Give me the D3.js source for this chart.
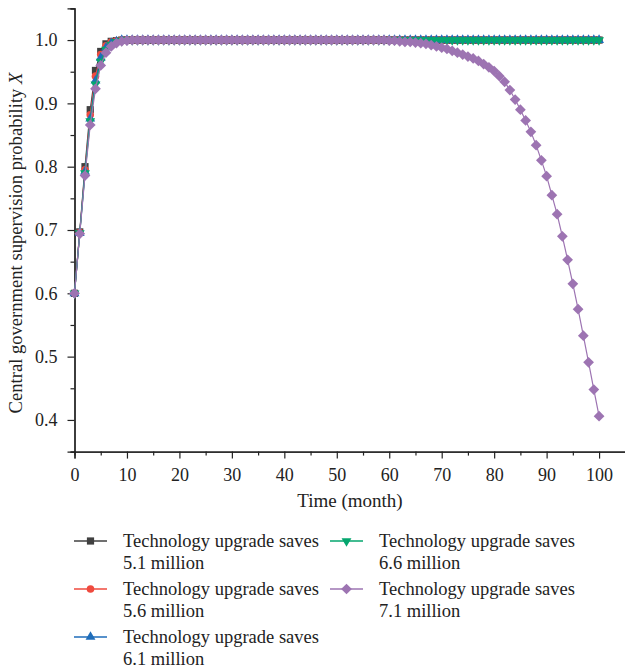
<!DOCTYPE html>
<html><head><meta charset="utf-8">
<script src="https://cdn.jsdelivr.net/npm/d3@7"></script>
<style>body{margin:0;background:#fff}svg{display:block}text{font-family:"Liberation Serif","DejaVu Serif",serif;fill:#222}</style>
</head><body><svg id="c" width="625" height="671"></svg>
<script>
const months = d3.range(0, 101);
const xTicks = [0,10,20,30,40,50,60,70,80,90,100];
const yTicks = [0.4,0.5,0.6,0.7,0.8,0.9,1.0];
const seriesNames = ["5.1 million","5.6 million","6.1 million","6.6 million","7.1 million"];
const colors = ["#404040","#EF4A3E","#1F6DBA","#04A66E","#9D74B2"];
const s51 = [0.6,0.697,0.800,0.890,0.952,0.982,0.994,0.998,0.999,1,
1,1,1,1,1,1,1,1,1,1, 1,1,1,1,1,1,1,1,1,1, 1,1,1,1,1,1,1,1,1,1, 1,1,1,1,1,1,1,1,1,1,
1,1,1,1,1,1,1,1,1,1, 1,1,1,1,1,1,1,1,1,1, 1,1,1,1,1,1,1,1,1,1, 1,1,1,1,1,1,1,1,1,1,
1,1,1,1,1,1,1,1,1,1, 1];
const s56 = [0.6,0.696,0.795,0.882,0.943,0.977,0.991,0.997,0.999,1,
1,1,1,1,1,1,1,1,1,1, 1,1,1,1,1,1,1,1,1,1, 1,1,1,1,1,1,1,1,1,1, 1,1,1,1,1,1,1,1,1,1,
1,1,1,1,1,1,1,1,1,1, 1,1,1,1,1,1,1,1,1,1, 1,1,1,1,1,1,1,1,1,1, 1,1,1,1,1,1,1,1,1,1,
1,1,1,1,1,1,1,1,1,1, 1];
const s61 = [0.6,0.695,0.792,0.876,0.936,0.972,0.988,0.995,0.998,1,
1,1,1,1,1,1,1,1,1,1, 1,1,1,1,1,1,1,1,1,1, 1,1,1,1,1,1,1,1,1,1, 1,1,1,1,1,1,1,1,1,1,
1,1,1,1,1,1,1,1,1,1, 1,1,1,1,1,1,1,1,1,1, 1,1,1,1,1,1,1,1,1,1, 1,1,1,1,1,1,1,1,1,1,
1,1,1,1,1,1,1,1,1,1, 1];
const s66 = [0.6,0.695,0.790,0.872,0.930,0.966,0.985,0.993,0.997,0.999,
1,1,1,1,1,1,1,1,1,1, 1,1,1,1,1,1,1,1,1,1, 1,1,1,1,1,1,1,1,1,1, 1,1,1,1,1,1,1,1,1,1,
1,1,1,1,1,1,1,1,1,1, 1,1,1,1,1,1,1,1,1,1, 1,1,1,1,1,1,1,1,1,1, 1,1,1,1,1,1,1,1,1,1,
1,1,1,1,1,1,1,1,1,1, 1];
const s71 = [0.6,0.694,0.786,0.866,0.923,0.960,0.980,0.990,0.995,0.998,0.999,1,
1,1,1,1,1,1,1,1, 1,1,1,1,1,1,1,1,1,1, 1,1,1,1,1,1,1,1,1,1, 1,1,1,1,1,1,1,1,1,1,
1,1,1,1,1,1,1,1,1,1,
0.999,0.999,0.998,0.997,0.997,0.996,0.995,0.994,0.992,0.990,
0.988,0.986,0.983,0.980,0.977,0.974,0.971,0.967,0.962,0.957,
0.951,0.943,0.934,0.921,0.906,0.890,0.873,0.855,0.834,0.810,
0.785,0.755,0.725,0.690,0.653,0.615,0.575,0.533,0.491,0.448,
0.406];
const seriesValues = [s51,s56,s61,s66,s71];

const svg = d3.select("#c");
const x = d3.scaleLinear().domain([0,105]).range([74.5, 625.3]);
const y = d3.scaleLinear().domain([0.35,1.05]).range([451.6, 8.4]);

// axes
const gx = svg.append("g").attr("transform",`translate(0,${y(0.35)})`);
gx.call(d3.axisBottom(x).tickValues(xTicks).tickSize(7).tickPadding(10).tickFormat(d3.format("d")));
gx.append("g").call(d3.axisBottom(x).tickValues(d3.range(5,100,10)).tickSize(4).tickFormat(""));
const gy = svg.append("g").attr("transform",`translate(${x(0)},0)`);
gy.call(d3.axisLeft(y).tickValues(yTicks).tickSize(7).tickPadding(10).tickFormat(d3.format(".1f")));
gy.append("g").call(d3.axisLeft(y).tickValues([0.35,0.45,0.55,0.65,0.75,0.85,0.95,1.05]).tickSize(4).tickFormat(""));
svg.selectAll(".domain").attr("stroke","#222").attr("stroke-width",1.3);
svg.selectAll(".tick line").attr("stroke","#222").attr("stroke-width",1.2);
svg.selectAll(".tick text").style("font-size","18px").style("fill","#222").style("font-family","Liberation Serif");

svg.append("text").attr("x",350).attr("y",507).attr("text-anchor","middle").style("font-size","19px").text("Time (month)");
const yt = svg.append("text").attr("transform","translate(22,243) rotate(-90)").attr("text-anchor","middle").style("font-size","18.6px");
yt.append("tspan").text("Central government supervision probability ");
yt.append("tspan").style("font-style","italic").text("X");

// markers
function marker(sel, i, c){
  if(i===0) sel.append("rect").attr("x",-3.6).attr("y",-3.6).attr("width",7.2).attr("height",7.2).attr("fill",c);
  else if(i===1) sel.append("circle").attr("r",3.8).attr("fill",c);
  else if(i===2) sel.append("path").attr("d",d3.symbol(d3.symbolTriangle,42)()).attr("fill",c);
  else if(i===3) sel.append("path").attr("d",d3.symbol(d3.symbolTriangle,42)()).attr("transform","rotate(180)").attr("fill",c);
  else sel.append("rect").attr("x",-3.8).attr("y",-3.8).attr("width",7.6).attr("height",7.6).attr("transform","rotate(45)").attr("fill",c);
}
const line = d3.line().x(d=>x(d[0])).y(d=>y(d[1]));
seriesValues.forEach((vals,i)=>{
  const pts = months.map((m,k)=>[m, vals[k]]);
  const g = svg.append("g");
  g.append("path").attr("d",line(pts)).attr("fill","none").attr("stroke",colors[i]).attr("stroke-width",1.2);
  pts.forEach(p=>{
    const mg = g.append("g").attr("transform",`translate(${x(p[0])},${y(p[1])})`);
    marker(mg,i,colors[i]);
  });
});

// legend
const legPos = [[74,541],[74,589],[74,637],[330,541],[330,589]];
seriesNames.forEach((n,i)=>{
  const [lx,ly] = legPos[i];
  const g = svg.append("g").attr("transform",`translate(${lx},${ly})`);
  g.append("line").attr("x1",0).attr("x2",33).attr("y1",0).attr("y2",0).attr("stroke",colors[i]).attr("stroke-width",1.5);
  const mg = g.append("g").attr("transform","translate(16.5,0)");
  marker(mg,i,colors[i]);
  const t = g.append("text").attr("x",49).attr("y",6).style("font-size","18.5px");
  t.append("tspan").attr("x",49).text("Technology upgrade saves");
  t.append("tspan").attr("x",49).attr("dy",22).text(n);
});
</script></body></html>
